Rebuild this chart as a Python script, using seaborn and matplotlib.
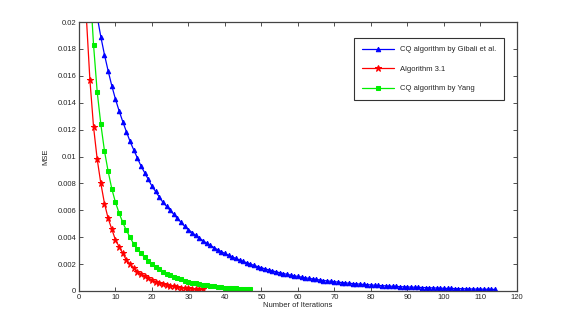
import pandas as pd
import seaborn as sns
import matplotlib
matplotlib.use("Agg")
import matplotlib.pyplot as plt
from matplotlib.ticker import FuncFormatter

# data
red_x = list(range(2, 35))
red_y = [0.0205, 0.0157, 0.0122, 0.0098, 0.0080, 0.0065, 0.0054, 0.0046, 0.0038,
         0.0033, 0.0028, 0.0023, 0.0020, 0.0017, 0.00145, 0.00125, 0.00108,
         0.00093, 0.0008, 0.00069, 0.0006, 0.00052, 0.00045, 0.00039, 0.00034,
         0.0003, 0.00026, 0.00023, 0.0002, 0.00018, 0.00016, 0.00014, 0.00012]

green_x = list(range(3, 48))
green_y = [0.0228, 0.0183, 0.0148, 0.0124, 0.0104, 0.0089, 0.0076, 0.0066, 0.0058,
           0.0051, 0.0045, 0.0040, 0.0035, 0.0031, 0.0028, 0.0025, 0.0022, 0.0020,
           0.0018, 0.0016, 0.00145, 0.0013, 0.00117, 0.00105, 0.00095, 0.00086,
           0.00078, 0.0007, 0.00063, 0.00057, 0.00052, 0.00047, 0.00043, 0.00039,
           0.00035, 0.00032, 0.00029, 0.00026, 0.00024, 0.00022, 0.0002, 0.00018,
           0.00016, 0.00015, 0.00014]

blue_x = list(range(5, 115))
blue_y = [0.0204, 0.0189, 0.01756, 0.01637, 0.01526, 0.01427, 0.0134, 0.0126,
          0.01185, 0.01113, 0.0105, 0.0099, 0.0093, 0.0088, 0.0083, 0.0078, 0.0074,
          0.0070, 0.0066, 0.0063, 0.0060, 0.0057, 0.0054, 0.0051, 0.0048, 0.00457,
          0.00435, 0.00413, 0.00393, 0.00374, 0.00356, 0.00339, 0.00323, 0.00307,
          0.00293, 0.00279, 0.00266, 0.00254, 0.00242, 0.00231, 0.0022, 0.0021,
          0.002, 0.0019, 0.00181, 0.00173, 0.00165, 0.00157, 0.0015, 0.00143,
          0.00136, 0.0013, 0.00124, 0.00118, 0.00113, 0.00108, 0.00103, 0.00098,
          0.00094, 0.0009, 0.00086, 0.00082, 0.00078, 0.00075, 0.00072, 0.00069,
          0.00066, 0.00063, 0.0006, 0.00058, 0.00055, 0.00053, 0.00051, 0.00049,
          0.00047, 0.00045, 0.00043, 0.00041, 0.0004, 0.00038, 0.00036, 0.00035,
          0.00034, 0.00032, 0.00031, 0.0003, 0.00029, 0.00028, 0.00027, 0.00026,
          0.00025, 0.00024, 0.00023, 0.00022, 0.00021, 0.0002, 0.00019, 0.00019,
          0.00018, 0.00017, 0.00017, 0.00016, 0.00015, 0.00015, 0.00014, 0.00014,
          0.00013, 0.00013, 0.00012, 0.00012]

labels = ["CQ algorithm by Gibali et al.", "Algorithm 3.1", "CQ algorithm by Yang"]
x_ticks = list(range(0, 121, 10))
y_ticks = [0, 0.002, 0.004, 0.006, 0.008, 0.01, 0.012, 0.014, 0.016, 0.018, 0.02]

sns.set_style("ticks")
plt.rcParams['font.family'] = ['Liberation Sans', 'DejaVu Sans']

fig = plt.figure(figsize=(5.68, 3.32), dpi=100)
ax = fig.add_axes([0.139, 0.1235, 0.771, 0.81])

series = [
    (blue_x, blue_y, labels[0], "blue", "^", 3.2),
    (red_x, red_y, labels[1], "red", "*", 4.5),
    (green_x, green_y, labels[2], "#00ee00", "s", 2.8),
]
for xs, ys, lab, col, mk, ms in series:
    df = pd.DataFrame({"iter": xs, "mse": ys})
    sns.lineplot(data=df, x="iter", y="mse", ax=ax, color=col, marker=mk,
                 markersize=ms, markeredgecolor=col, linewidth=0.9, label=lab)

ax.set_xlim(0, 120)
ax.set_ylim(0, 0.02)
ax.set_xticks(x_ticks)
ax.set_yticks(y_ticks)
ax.yaxis.set_major_formatter(FuncFormatter(lambda v, p: "%g" % v))
ax.tick_params(direction="in", length=3, width=0.6, labelsize=5.5, pad=2,
               top=True, right=True, color="#333333")
for s in ax.spines.values():
    s.set_linewidth(0.9)
    s.set_color("#444444")

ax.set_xlabel("Number of Iterations", fontsize=5.5, labelpad=1)
ax.set_ylabel("MSE", fontsize=5.5, labelpad=6)

leg = ax.legend(loc="upper right", bbox_to_anchor=(0.97, 0.94), fontsize=5.5,
                frameon=True, fancybox=False, edgecolor="black",
                handlelength=4.2, labelspacing=1.6, borderpad=1.0,
                borderaxespad=0)
leg.get_frame().set_linewidth(0.8)

fig.savefig("out.png", dpi=100)
